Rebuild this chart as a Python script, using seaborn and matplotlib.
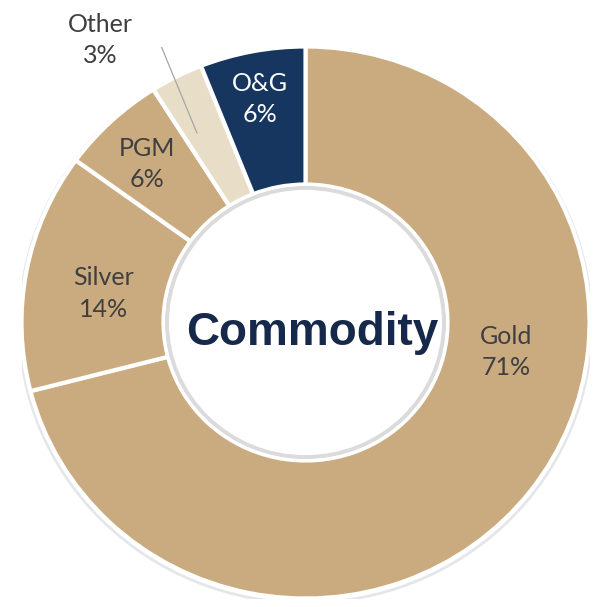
import matplotlib
matplotlib.use("Agg")
import matplotlib.pyplot as plt
import seaborn as sns

# commodity split, clockwise from 12 o'clock
labels = ["Gold", "Silver", "PGM", "Other", "O&G"]
shares = [71, 14, 6, 3, 6]
colors = ["#CAAB80", "#CAAB80", "#CAAB80", "#E8DEC7", "#16365F"]
text_colors = ["#3F3F3F", "#3F3F3F", "#3F3F3F", "#3F3F3F", "#FFFFFF"]
# where each label sits (data units, donut radius = 1)
label_xy = [(0.706, -0.107), (-0.711, 0.105), (-0.558, 0.574), (-0.724, 1.024), (-0.160, 0.809)]

sns.set_theme(style="white")
plt.rcParams["font.family"] = ["Lato", "DejaVu Sans"]

W, H = 597, 607
fig = plt.figure(figsize=(W / 100, H / 100), dpi=100)
cx, cy, rx, ry = 305.5, 322.5, 284, 276
ax = fig.add_axes([(cx - rx) / W, 1 - (cy + ry) / H, 2 * rx / W, 2 * ry / H])

# faint shadow outside the ring
ax.add_patch(plt.Circle((0.0, -0.008), 1.008, fill=False, ec="#D3D6DC", lw=2, alpha=0.6))

wedges, _ = ax.pie(
    shares, colors=colors, startangle=90, counterclock=False, radius=1,
    wedgeprops=dict(width=0.5, edgecolor="white", linewidth=3),
)

# soft shadow ring inside the hole
ax.add_patch(plt.Circle((0, 0), 0.488, fill=False, ec="#C4C4C4", lw=3, alpha=0.6))
ax.add_patch(plt.Circle((0, 0), 0.5, fill=False, ec="white", lw=2))

for lab, val, (x, y), tc in zip(labels, shares, label_xy, text_colors):
    ax.text(x, y, f"{lab}\n{val}%", ha="center", va="center", fontsize=18,
            color=tc, linespacing=1.45)

# leader line for the small slice
ax.plot([-0.572, -0.523, -0.382], [1.042, 1.038, 0.686], color="#A6A6A6", lw=0.9)

ax.text(0.023, -0.082, "Commodity", ha="center", va="baseline", fontsize=33,
        fontweight="bold", color="#17294A", family=["Liberation Sans", "DejaVu Sans"])

ax.set_xlim(-1, 1)
ax.set_ylim(-1, 1)
ax.set_aspect("auto")
ax.axis("off")

fig.savefig("out.png", dpi=100, facecolor="white")
